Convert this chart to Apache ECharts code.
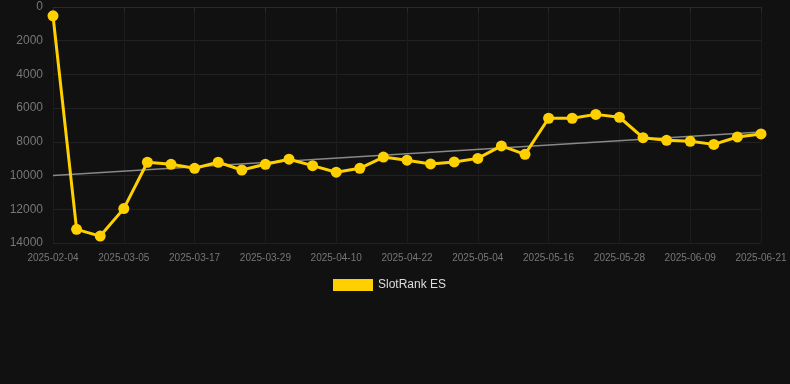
<!DOCTYPE html>
<html>
<head>
<meta charset="utf-8">
<script src="https://cdn.jsdelivr.net/npm/echarts@6/dist/echarts.min.js"></script>
<style>
html,body{margin:0;padding:0;background:#111111;}
#c{width:790px;height:384px;}
</style>
</head>
<body>
<div id="c"></div>
<script>
const categories = [
  '2025-02-04','2025-02-14','2025-02-24','2025-03-05','2025-03-09','2025-03-13','2025-03-17',
  '2025-03-21','2025-03-25','2025-03-29','2025-04-02','2025-04-06','2025-04-10','2025-04-14',
  '2025-04-18','2025-04-22','2025-04-26','2025-04-30','2025-05-04','2025-05-08','2025-05-12',
  '2025-05-16','2025-05-20','2025-05-24','2025-05-28','2025-06-01','2025-06-05','2025-06-09',
  '2025-06-13','2025-06-17','2025-06-21'
];
const rankValues = [
  520, 13190, 13590, 11960, 9210, 9330, 9570,
  9210, 9670, 9330, 9030, 9410, 9800, 9570,
  8900, 9090, 9310, 9190, 8980, 8240, 8740,
  6600, 6600, 6370, 6540, 7750, 7910, 7970,
  8150, 7710, 7530
];
const trendStart = 10000;
const trendEnd = 7420;
const yTicks = { min: 0, max: 14000, interval: 2000 };

const chart = echarts.init(document.getElementById('c'));
chart.setOption({
  backgroundColor: '#111111',
  animation: false,
  grid: { left: 53, right: 29, top: 7, bottom: 141 },
  legend: {
    bottom: 88,
    left: 328,
    data: [{ name: 'SlotRank ES', icon: 'rect' }],
    itemWidth: 40,
    itemHeight: 12,
    itemGap: 10,
    textStyle: { color: '#dddddd', fontSize: 12, fontFamily: 'Liberation Sans, Arial, sans-serif' }
  },
  xAxis: {
    type: 'category',
    data: categories,
    boundaryGap: false,
    axisLine: { show: true, lineStyle: { color: '#2a2a2a' } },
    axisTick: { show: true, interval: 2, lineStyle: { color: '#2a2a2a' } },
    axisLabel: { interval: 2, color: '#777777', fontSize: 10, fontFamily: 'Liberation Sans, Arial, sans-serif', margin: 10 },
    splitLine: { show: true, interval: 2, lineStyle: { color: '#1c1c1c' } }
  },
  yAxis: {
    type: 'value',
    inverse: true,
    min: yTicks.min,
    max: yTicks.max,
    interval: yTicks.interval,
    axisLine: { show: false },
    axisTick: { show: false },
    axisLabel: { color: '#777777', fontSize: 12, fontFamily: 'Liberation Sans, Arial, sans-serif', margin: 10,
      formatter: function (v) { return String(v); } },
    splitLine: { show: true, lineStyle: { color: '#222222' } }
  },
  series: [
    {
      name: 'Trend',
      type: 'line',
      data: [[categories[0], trendStart], [categories[categories.length - 1], trendEnd]],
      symbol: 'none',
      lineStyle: { color: '#888888', width: 1.5 },
      silent: true,
      z: 1
    },
    {
      name: 'SlotRank ES',
      type: 'line',
      data: rankValues,
      symbol: 'circle',
      symbolSize: 11,
      itemStyle: { color: '#ffd000' },
      lineStyle: { color: '#ffd000', width: 3 },
      z: 2
    }
  ]
});
</script>
</body>
</html>
